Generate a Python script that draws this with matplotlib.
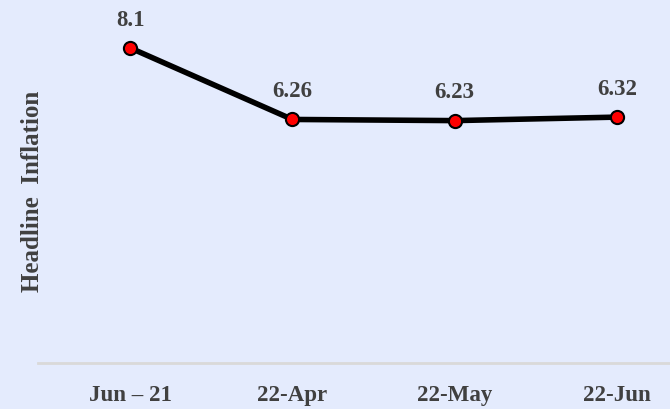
import matplotlib
matplotlib.use("Agg")
import matplotlib.pyplot as plt

categories = ["Jun \u2013 21", "22-Apr", "22-May", "22-Jun"]
values = [8.1, 6.26, 6.23, 6.32]
value_labels = ["8.1", "6.26", "6.23", "6.32"]

bg = "#E4EBFD"
text_color = "#404040"

fig = plt.figure(figsize=(6.7, 4.09), dpi=100, facecolor=bg)
W, H = 670, 409
ax = fig.add_axes([38 / W, (H - 363) / H, (670 - 38) / W, 363 / H])
ax.set_facecolor(bg)

x = list(range(len(categories)))
ax.plot(x, values, color="black", lw=4, solid_capstyle="round", zorder=2)
ax.scatter(x, values, s=90, color="#FF0000", edgecolor="black", linewidth=1.5, zorder=3)

base = dict(family="Liberation Serif", weight="bold", color=text_color)
for xi, v, lab in zip(x, values, value_labels):
    ax.annotate(lab, (xi, v), xytext=(0, 16), textcoords="offset points",
                ha="center", va="baseline", size=16.5, **base)

ax.set_xlim(-0.567, 3.327)
ax.set_ylim(0, 9.33)
ax.set_yticks([])
ax.set_xticks(x)
ax.set_xticklabels(categories, size=16.5, **base)
ax.tick_params(axis="x", length=0, pad=16)
for s in ["top", "right", "left"]:
    ax.spines[s].set_visible(False)
ax.spines["bottom"].set_color("#D9D9D9")
ax.spines["bottom"].set_linewidth(2)

fig.text(33 / W, 1 - 191.5 / H, "Headline  Inflation", rotation=90, ha="center", va="center",
         size=18, **base)

fig.savefig("out.png", dpi=100, facecolor=bg)
